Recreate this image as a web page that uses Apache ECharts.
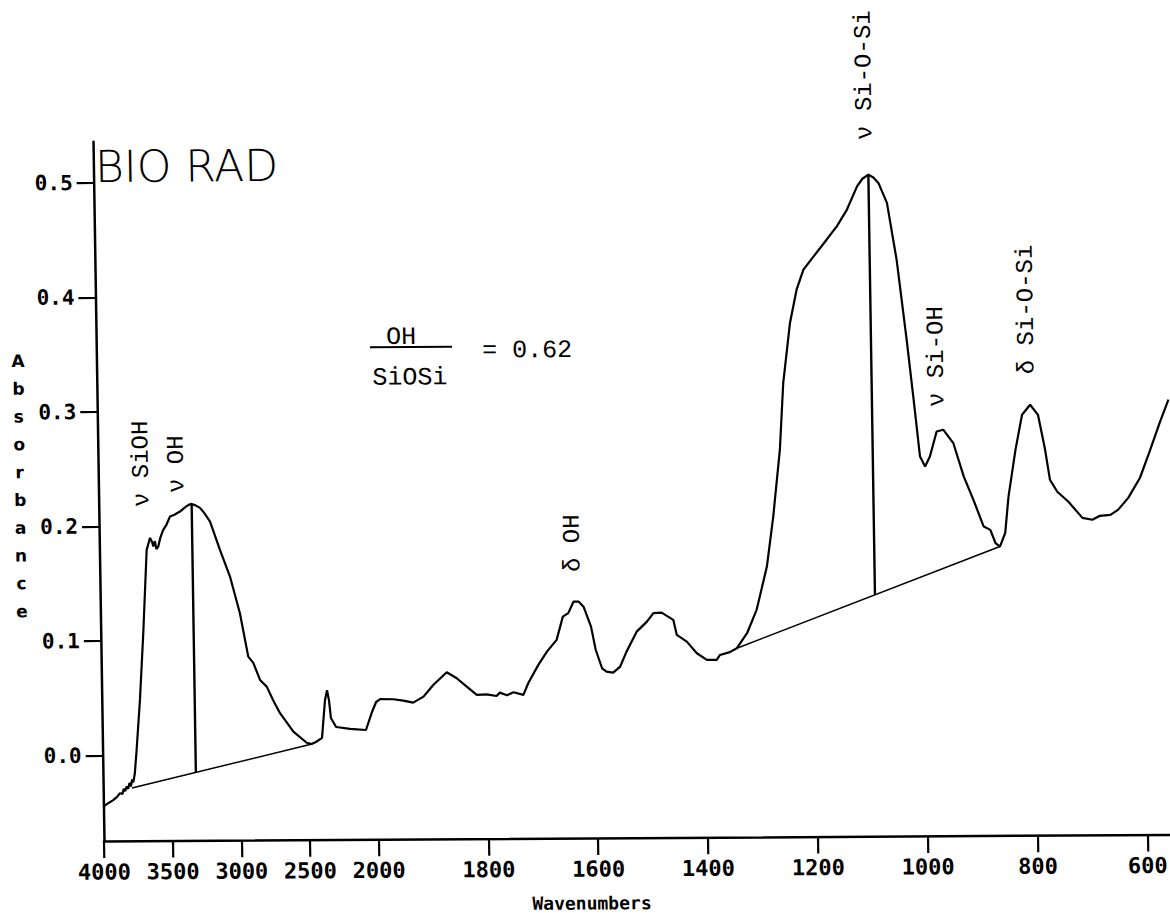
<!DOCTYPE html>
<html>
<head>
<meta charset="utf-8">
<script src="https://cdn.jsdelivr.net/npm/echarts@6/dist/echarts.min.js"></script>
<style>
  html, body { margin: 0; padding: 0; background: #fff; overflow: hidden; width: 1170px; height: 913px; }
  /* slight shear of the whole plot, as on the plotter sheet */
  #chart { width: 1200px; height: 913px; transform: matrix(1, -0.0062, 0.0157, 1, 0, 0); transform-origin: 585px 456px; }
</style>
</head>
<body>
<div id="chart"></div>
<script>
// FTIR spectrum: wavenumber (cm-1) and absorbance
const wavenumbers = [
  4000, 3965, 3928, 3900, 3878, 3860, 3850, 3840, 3829, 3818, 3808, 3798, 3788, 3780, 3768,
  3752, 3722, 3690, 3656, 3630, 3615, 3607, 3595, 3585, 3571, 3555, 3533, 3510, 3482, 3450,
  3409, 3370, 3345, 3323, 3295, 3263, 3230, 3191, 3122, 3052, 2984, 2928, 2892, 2845, 2797,
  2750, 2703, 2608, 2512, 2476, 2445, 2400, 2374, 2358, 2345, 2333, 2296, 2195, 2079, 2033,
  2002, 1993, 1969, 1951, 1933, 1914, 1896, 1871, 1853, 1835, 1817, 1799, 1781, 1775, 1762,
  1750, 1732, 1723, 1704, 1688, 1670, 1658, 1648, 1638, 1629, 1620, 1607, 1599, 1588, 1580,
  1568, 1555, 1543, 1524, 1505, 1493, 1478, 1457, 1451, 1433, 1415, 1397, 1379, 1373, 1355,
  1342, 1323, 1305, 1285, 1272, 1258, 1250, 1236, 1223, 1210, 1191, 1167, 1148, 1129, 1110,
  1100, 1089, 1080, 1071, 1056, 1040, 1024, 1013, 1003, 994, 985, 972, 960, 942, 924,
  907, 889, 877, 868, 860, 850, 843, 829, 816, 801, 787, 775, 767, 754, 734,
  709, 691, 677, 658, 644, 625, 603, 585, 565, 549
];
const absorbance = [
  -0.0445, -0.0415, -0.0388, -0.0360, -0.0329, -0.0335, -0.0290, -0.0310, -0.0272, -0.0290, -0.0240, -0.0270, -0.0210, -0.0235, -0.0160,
  0.0048, 0.0485, 0.1069, 0.1794, 0.1899, 0.1860, 0.1823, 0.1870, 0.1800, 0.1823, 0.1900, 0.1968, 0.2010, 0.2084, 0.2100,
  0.2127, 0.2165, 0.2185, 0.2193, 0.2180, 0.2158, 0.2110, 0.2038, 0.1791, 0.1557, 0.1236, 0.0857, 0.0802, 0.0653, 0.0594,
  0.0470, 0.0361, 0.0199, 0.0102, 0.0091, 0.0108, 0.0143, 0.0474, 0.0560, 0.0470, 0.0317, 0.0238, 0.0220, 0.0210, 0.0367,
  0.0454, 0.0478, 0.0477, 0.0464, 0.0446, 0.0498, 0.0599, 0.0710, 0.0657, 0.0583, 0.0510, 0.0515, 0.0500, 0.0529, 0.0506,
  0.0531, 0.0508, 0.0609, 0.0769, 0.0884, 0.0986, 0.1189, 0.1219, 0.1320, 0.1320, 0.1275, 0.1100, 0.0896, 0.0736, 0.0707,
  0.0697, 0.0750, 0.0880, 0.1054, 0.1141, 0.1214, 0.1219, 0.1155, 0.1023, 0.0964, 0.0862, 0.0803, 0.0803, 0.0846, 0.0870,
  0.0904, 0.1034, 0.1237, 0.1615, 0.2051, 0.2634, 0.3216, 0.3740, 0.4030, 0.4205, 0.4320, 0.4465, 0.4581, 0.4727, 0.4929,
  0.4995, 0.5031, 0.5005, 0.4958, 0.4783, 0.4287, 0.3588, 0.3064, 0.2567, 0.2480, 0.2567, 0.2785, 0.2800, 0.2683, 0.2391,
  0.2186, 0.1952, 0.1923, 0.1807, 0.1777, 0.1896, 0.2213, 0.2620, 0.2926, 0.3013, 0.2925, 0.2619, 0.2357, 0.2252, 0.2164,
  0.2023, 0.2006, 0.2040, 0.2048, 0.2091, 0.2195, 0.2370, 0.2596, 0.2857, 0.3050
];

// Baselines drawn under the O-H and Si-O-Si bands
const baseOHWn = [3790, 2474];
const baseOHAbs = [-0.0284, 0.0091];
const baseSiWn = [1342, 860];
const baseSiAbs = [0.0904, 0.1777];
// Peak positions whose heights are measured from the baselines
const peakWn = [3323, 1089];

// Axis ticks
const xTickLabels = [4000, 3500, 3000, 2500, 2000, 1800, 1600, 1400, 1200, 1000, 800, 600];
const yTickLabels = [0.0, 0.1, 0.2, 0.3, 0.4, 0.5];
const ratioValue = 0.62;

// Band assignments
const bandLabels = ['\u03bd SiOH', '\u03bd OH', '\u03b4 OH', '\u03bd Si-O-Si', '\u03bd Si-OH', '\u03b4 Si-O-Si'];

// Wavenumber scale: 4000-2000 cm-1 is compressed 4:1 against 2000-600 cm-1
function scaleWn(w) { return w >= 2000 ? (4000 - w) / 4 : 2500 - w; }
function unscaleWn(t) { return t <= 500 ? 4000 - 4 * t : 2500 - t; }

function lerp(xs, ys, x) {
  const f = (x - xs[0]) / (xs[1] - xs[0]);
  return ys[0] + f * (ys[1] - ys[0]);
}
function absAt(w) { return absorbance[wavenumbers.indexOf(w)]; }

const spectrum = wavenumbers.map((w, i) => [scaleWn(w), absorbance[i]]);
const baseOH = baseOHWn.map((w, i) => [scaleWn(w), baseOHAbs[i]]);
const baseSi = baseSiWn.map((w, i) => [scaleWn(w), baseSiAbs[i]]);
const dropOH = [[scaleWn(peakWn[0]), absAt(peakWn[0])], [scaleWn(peakWn[0]), lerp(baseOHWn, baseOHAbs, peakWn[0])]];
const dropSi = [[scaleWn(peakWn[1]), absAt(peakWn[1])], [scaleWn(peakWn[1]), lerp(baseSiWn, baseSiAbs, peakWn[1])]];

const ink = '#000';
const noteFont = '24px "Liberation Mono", "Courier New", monospace';

function lineSeries(data, width) {
  return {
    type: 'line', data: data, showSymbol: false, silent: true,
    lineStyle: { color: ink, width: width }, z: 3
  };
}

function bandText(text, x, y) {
  return {
    type: 'text', x: x, y: y, rotation: Math.PI / 2,
    style: { text: text, font: noteFont, fill: ink, align: 'left', verticalAlign: 'middle',
             textAlign: 'left', textVerticalAlign: 'middle' }
  };
}

const chart = echarts.init(document.getElementById('chart'), null, { renderer: 'svg' });
chart.setOption({
  animation: false,
  backgroundColor: '#fff',
  grid: { left: 98, right: 28, top: 138.7, bottom: 75, containLabel: false, outerBoundsMode: 'none' },
  xAxis: {
    type: 'value', min: 0, max: scaleWn(544),
    axisLine: { show: true, onZero: false, lineStyle: { color: ink, width: 2.5 } },
    axisTick: { show: true, inside: false, length: 17, customValues: xTickLabels.map(scaleWn),
                lineStyle: { color: ink, width: 2.2 } },
    axisLabel: { show: true, customValues: xTickLabels.map(scaleWn), margin: 20,
                 formatter: v => String(Math.round(unscaleWn(v))),
                 color: ink, fontFamily: '"DejaVu Sans Mono", monospace', fontWeight: 'bold', fontSize: 22 },
    splitLine: { show: false }
  },
  yAxis: {
    type: 'value', min: -0.0745, max: 0.536,
    axisLine: { show: true, onZero: false, lineStyle: { color: ink, width: 2.5 } },
    axisTick: { show: true, inside: false, length: 17, customValues: yTickLabels,
                lineStyle: { color: ink, width: 2.2 } },
    axisLabel: { show: true, customValues: yTickLabels, margin: 21,
                 formatter: v => v.toFixed(1),
                 color: ink, fontFamily: '"DejaVu Sans Mono", monospace', fontWeight: 'bold', fontSize: 21 },
    splitLine: { show: false }
  },
  series: [
    lineSeries(spectrum, 2.2),
    lineSeries(baseOH, 1.5),
    lineSeries(baseSi, 1.5),
    lineSeries(dropOH, 2.4),
    lineSeries(dropSi, 2.4)
  ],
  graphic: [
    { type: 'text', x: 99.5, y: 163.5,
      style: { text: 'BIO RAD', font: '200 44px "DejaVu Sans", sans-serif', fill: ink,
               align: 'left', verticalAlign: 'middle', textAlign: 'left', textVerticalAlign: 'middle' } },
    { type: 'text', x: 19.5, y: 482.5,
      style: { text: 'Absorbance'.split('').join('\n'), font: 'bold 17px "DejaVu Sans", sans-serif',
               lineHeight: 27.8, fill: ink, align: 'center', verticalAlign: 'middle',
               textAlign: 'center', textVerticalAlign: 'middle' } },
    { type: 'text', x: 585, y: 903,
      style: { text: 'Wavenumbers', font: 'bold 18px "DejaVu Sans Mono", monospace', fill: ink,
               align: 'center', verticalAlign: 'middle', textAlign: 'center', textVerticalAlign: 'middle' } },
    { type: 'text', x: 402.9, y: 336.4,
      style: { text: 'OH', font: '25px "Liberation Mono", monospace', fill: ink,
               align: 'center', verticalAlign: 'middle', textAlign: 'center', textVerticalAlign: 'middle' } },
    { type: 'line', shape: { x1: 371.7, y1: 346, x2: 453.7, y2: 346 },
      style: { stroke: ink, lineWidth: 2 } },
    { type: 'text', x: 411.2, y: 376.9,
      style: { text: 'SiOSi', font: '25px "Liberation Mono", monospace', fill: ink,
               align: 'center', verticalAlign: 'middle', textAlign: 'center', textVerticalAlign: 'middle' } },
    { type: 'text', x: 483.7, y: 350.4,
      style: { text: '= ' + ratioValue.toFixed(2), font: '25px "Liberation Mono", monospace', fill: ink,
               align: 'left', verticalAlign: 'middle', textAlign: 'left', textVerticalAlign: 'middle' } },
    bandText(bandLabels[0], 141.2, 504.3),
    bandText(bandLabels[1], 176.4, 490.5),
    bandText(bandLabels[2], 571.2, 571.9),
    bandText(bandLabels[3], 870.0, 141.7),
    bandText(bandLabels[4], 937.8, 409.2),
    bandText(bandLabels[5], 1028.3, 377.0)
  ]
});
</script>
</body>
</html>
